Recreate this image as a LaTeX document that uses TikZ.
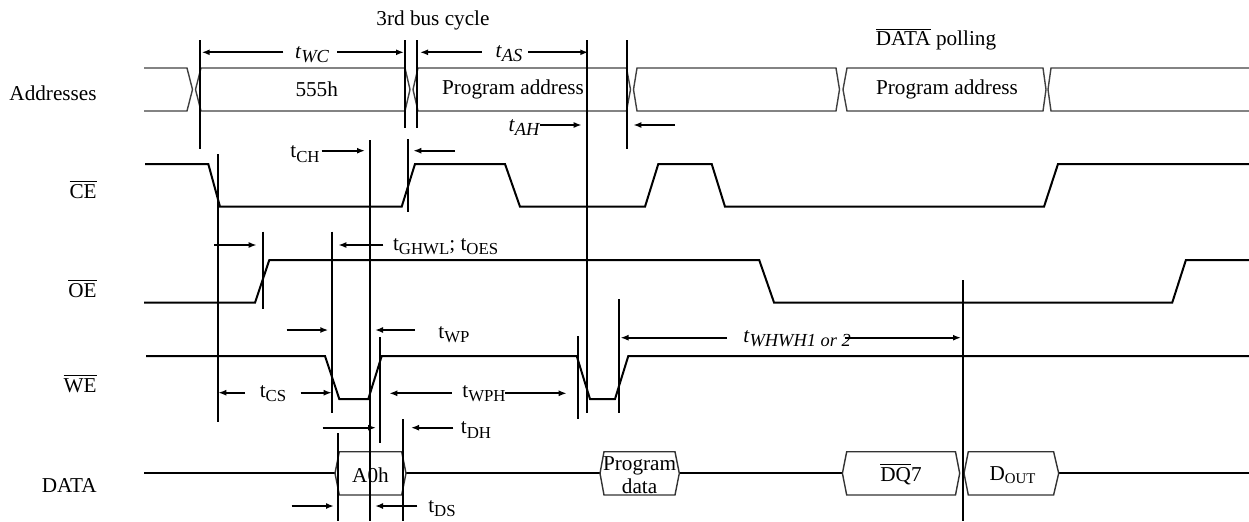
\documentclass[tikz,border=0pt]{standalone}
\usepackage{fontspec}
\setmainfont{Liberation Serif}
\usetikzlibrary{arrows.meta}
\tikzset{>={Latex[length=4pt,width=3pt]}}
\newcommand{\ovl}[1]{$\overline{\mbox{#1}}$}
\newcommand{\tup}[1]{t\raisebox{-2.4pt}{\fontsize{8.4}{9}\selectfont #1}}
\newcommand{\tit}[1]{\textit{t}\raisebox{-2.2pt}{\fontsize{9.2}{10}\selectfont\itshape #1}}

\begin{document}
\begin{tikzpicture}[x=0.5pt,y=-0.5pt,font=\fontsize{10.6}{11.8}\selectfont,
  sig/.style={line width=1pt},
  bus/.style={line width=0.7pt,black!75},
  hex/.style={line width=0.7pt,black!80},
  edgeline/.style={line width=1pt},
  tim/.style={line width=1pt,->}]
\useasboundingbox (0,0) rectangle (1249,521);
% signal names
\node[anchor=base east,inner sep=0] (nAddr) at (97,100) {Addresses};
\node[anchor=base east,inner sep=0] (nCE) at (97,198.5) {\ovl{CE}};
\node[anchor=base east,inner sep=0] (nOE) at (97,297) {\ovl{OE}};
\node[anchor=base east,inner sep=0] (nWE) at (97,392) {\ovl{WE}};
\node[anchor=base east,inner sep=0] (nData) at (97,492) {DATA};
\node (cycle) at (433,20) {3rd bus cycle};
\node (polling) at (936,39) {\ovl{DATA} polling};
% address bus
\draw[bus] (144,68)--(187,68)--(192.5,89.5)--(187,111)--(144,111);
\draw[bus] (195.5,89.5)--(201,68)--(405,68)--(410,89.5)--(405,111)--(201,111)--cycle;
\draw[bus] (413,89.5)--(418,68)--(626.5,68)--(630.5,89.5)--(626.5,111)--(418,111)--cycle;
\draw[bus] (633.5,89.5)--(637,68)--(836,68)--(839.5,89.5)--(836,111)--(637,111)--cycle;
\draw[bus] (843,89.5)--(847,68)--(1043,68)--(1046,89.5)--(1043,111)--(847,111)--cycle;
\draw[bus] (1249,68)--(1051,68)--(1048,89.5)--(1051,111)--(1249,111);
\node (a555) at (316.7,89.5) {555h};
\node (aprog) at (513,89.5) {Program address};
\node (apoll) at (947,89.5) {Program address};
% CE, OE, WE
\draw[sig] (145,164)--(208.3,164)--(220,206.7)--(401.7,206.7)--(415,164)--(505,164)--(520,206.7)
  --(645,206.7)--(658.3,164)--(711.7,164)--(725,206.7)--(1044,206.7)--(1058,164)--(1249,164);
\draw[sig] (144,302.7)--(255,302.7)--(269.3,260)--(759.2,260)--(774.1,302.7)--(1172.2,302.7)
  --(1185.9,260)--(1249,260);
\draw[sig] (146,356)--(325,356)--(339.3,399)--(368.3,399)--(381.7,356)--(576.7,356)--(590,399)
  --(615,399)--(628.3,356)--(1249,356);
% data bus
\draw[sig] (144,473.3)--(335,473.3) (406,473.3)--(600,473.3) (679.3,473.3)--(842.4,473.3)
  (1058.7,473.3)--(1249,473.3);
\draw[hex] (335,473.3)--(339.3,451.7)--(401.7,451.7)--(406,473.3)--(401.7,495)--(339.3,495)--cycle;
\draw[hex] (600,473.3)--(604,451.7)--(675,451.7)--(679.3,473.3)--(675,495)--(604,495)--cycle;
\draw[hex] (842.4,473.3)--(846.7,451.7)--(955.5,451.7)--(959.7,473.3)--(955.5,495)--(846.7,495)--cycle;
\draw[hex] (964,473.3)--(968.3,451.7)--(1053.6,451.7)--(1058.7,473.3)--(1053.6,495)--(968.3,495)--cycle;
\node (dA0) at (370.5,475) {A0h};
\node[align=center,inner sep=0] (dProg) at (639.6,475) {Program\\data};
\node (dDQ) at (901,474) {\ovl{DQ}7};
\node (dOut) at (1013,475) {D\textsubscript{OUT}};
% edge lines
\draw[edgeline] (200,40)--(200,149);
\draw[edgeline] (405,40)--(405,127.7);
\draw[edgeline] (417.3,40)--(417.3,127.7);
\draw[edgeline] (586.7,40)--(586.7,412.7);
\draw[edgeline] (626.7,40)--(626.7,149.3);
\draw[edgeline] (370,140)--(370,521);
\draw[edgeline] (408.3,139.3)--(408.3,211.7);
\draw[edgeline] (218.3,154)--(218.3,421.7);
\draw[edgeline] (263.3,231.7)--(263.3,309.3);
\draw[edgeline] (331.7,231.7)--(331.7,413.3);
\draw[edgeline] (380,337.3)--(380,443.3);
\draw[edgeline] (338.3,433.3)--(338.3,521);
\draw[edgeline] (403.3,419.3)--(403.3,521);
\draw[edgeline] (577.7,336)--(577.7,419.3);
\draw[edgeline] (619,299.3)--(619,412.7);
\draw[edgeline] (962.7,280)--(962.7,521);
% timing arrows
\node[anchor=base] (tWC) at (312,58) {\tit{WC}};
\draw[tim] (283.3,52.3)--(201.7,52.3);
\draw[tim] (337.3,52.3)--(404,52.3);
\node[anchor=base] (tAS) at (509,57.5) {\tit{AS}};
\draw[tim] (481.7,52.3)--(420,52.3);
\draw[tim] (528.3,52.3)--(588.3,52.3);
\node[anchor=base] (tAH) at (524,131.5) {\tit{AH}};
\draw[tim] (540,125)--(581.7,125);
\draw[tim] (675,125)--(633.3,125);
\node[anchor=base] (tCH) at (305,157.5) {\tup{CH}};
\draw[tim] (321.7,150.7)--(365,150.7);
\draw[tim] (455,150.7)--(413.3,150.7);
\node[anchor=base west] (tGH) at (386,250) {\tup{GHWL}; \tup{OES}};
\draw[tim] (214,245)--(256.7,245);
\draw[tim] (383.3,245)--(338.3,245);
\node[anchor=base] (tWP) at (454,338) {\tup{WP}};
\draw[tim] (286.7,330)--(328.3,330);
\draw[tim] (415,330)--(375,330);
\node[anchor=base] (tCS) at (273,397) {\tup{CS}};
\draw[tim] (245,392.7)--(218.3,392.7);
\draw[tim] (300.7,392.7)--(331.7,392.7);
\node[anchor=base] (tWPH) at (484,397) {\tup{WPH}};
\draw[tim] (451.7,393.3)--(389.3,393.3);
\draw[tim] (505,393.3)--(566.7,393.3);
\node[anchor=base] (tDH) at (476,433.5) {\tup{DH}};
\draw[tim] (322.7,427.7)--(376,427.7);
\draw[tim] (453.3,427.7)--(411,427.7);
\node[anchor=base] (tDS) at (442,512) {\tup{DS}};
\draw[tim] (291.7,506)--(334,506);
\draw[tim] (417.3,506)--(375,506);
\node[anchor=base] (tWH) at (797,342) {\tit{WHWH1 or 2}};
\draw[tim] (727,337.7)--(620.5,337.7);
\draw[tim] (844.5,337.7)--(961,337.7);
\end{tikzpicture}
\end{document}
